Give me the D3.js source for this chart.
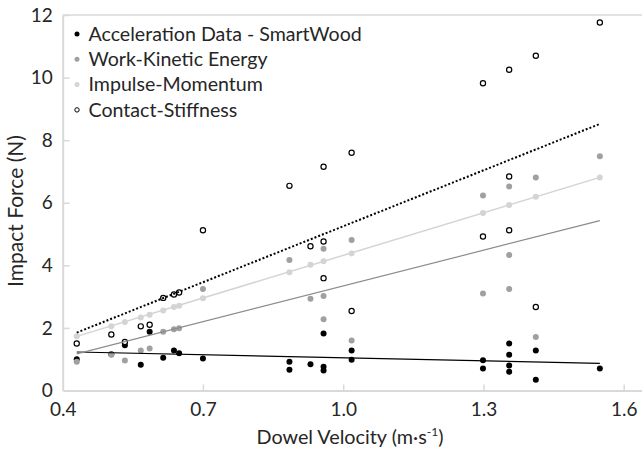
<!DOCTYPE html>
<html>
<head>
<meta charset="utf-8">
<script src="https://cdn.jsdelivr.net/npm/d3@7"></script>
<style>
	html, body { margin: 0; padding: 0; background: #fff; }
	svg { display: block; font-family: Lato, "Open Sans", sans-serif; }
</style>
</head>
<body>
<div id="chart"></div>
<script>
// Values
const accelX = [0.43, 0.504, 0.533, 0.567, 0.586, 0.615, 0.638, 0.649, 0.70, 0.885, 0.885, 0.93, 0.958, 0.958, 0.958, 1.018, 1.018, 1.299, 1.299, 1.355, 1.355, 1.355, 1.355, 1.412, 1.412, 1.549];
const accelY = [1.00, 1.16, 1.45, 0.82, 1.88, 1.05, 1.28, 1.19, 1.02, 0.92, 0.66, 0.84, 1.82, 0.76, 0.64, 1.28, 0.98, 0.97, 0.70, 1.50, 1.14, 0.80, 0.60, 1.28, 0.34, 0.70];

const workX = [0.43, 0.504, 0.533, 0.567, 0.586, 0.615, 0.638, 0.649, 0.70, 0.885, 0.93, 0.958, 0.958, 0.958, 1.018, 1.018, 1.299, 1.299, 1.355, 1.355, 1.355, 1.412, 1.412, 1.549];
const workY = [0.92, 1.14, 0.96, 1.28, 1.34, 1.88, 1.96, 1.99, 3.24, 4.17, 2.93, 4.53, 3.02, 2.28, 4.81, 1.60, 6.23, 3.10, 6.52, 4.33, 3.24, 6.81, 1.71, 7.49];

const impulseX = [0.43, 0.504, 0.533, 0.567, 0.586, 0.615, 0.638, 0.649, 0.70, 0.885, 0.93, 0.958, 1.018, 1.299, 1.355, 1.412, 1.549];
const impulseY = [1.73, 2.05, 2.19, 2.33, 2.42, 2.56, 2.67, 2.71, 2.95, 3.78, 4.02, 4.13, 4.38, 5.67, 5.93, 6.19, 6.81];

const contactX = [0.43, 0.504, 0.533, 0.567, 0.586, 0.615, 0.638, 0.649, 0.70, 0.885, 0.93, 0.958, 0.958, 0.958, 1.018, 1.018, 1.299, 1.299, 1.355, 1.355, 1.355, 1.412, 1.412, 1.549];
const contactY = [1.50, 1.79, 1.55, 2.05, 2.10, 2.96, 3.07, 3.13, 5.12, 6.54, 4.61, 7.15, 4.76, 3.59, 7.60, 2.54, 9.82, 4.92, 10.25, 6.84, 5.12, 10.70, 2.67, 11.76];

// Linear trend lines (start/end values at the first and last velocity)
const trendX = [0.43, 1.549];
const accelTrend = [1.23, 0.87];
const workTrend = [1.17, 5.43];
const impulseTrend = [1.73, 6.81];
const contactTrend = [1.85, 8.52];

const seriesNames = ['Acceleration Data - SmartWood', 'Work-Kinetic Energy', 'Impulse-Momentum', 'Contact-Stiffness'];
const xTicks = [0.4, 0.7, 1.0, 1.3, 1.6];
const yTicks = [0, 2, 4, 6, 8, 10, 12];

(function() {
	const W = 642, H = 456;
	const axisColor = '#d9d9d9';
	const textColor = '#262626';

	const series = [
		{ name: seriesNames[0], xs: accelX, ys: accelY, trend: accelTrend, fill: '#000', stroke: '#000', line: '#000', dash: null, lw: 1.2 },
		{ name: seriesNames[1], xs: workX, ys: workY, trend: workTrend, fill: '#a0a0a0', stroke: '#a0a0a0', line: '#8c8c8c', dash: null, lw: 1.2 },
		{ name: seriesNames[2], xs: impulseX, ys: impulseY, trend: impulseTrend, fill: '#d4d4d4', stroke: '#d4d4d4', line: '#d4d4d4', dash: null, lw: 1.5 },
		{ name: seriesNames[3], xs: contactX, ys: contactY, trend: contactTrend, fill: '#fff', stroke: '#000', line: '#000', dash: '2,2', lw: 2 }
	];

	const svg = d3.select('#chart').append('svg')
		.attr('width', W)
		.attr('height', H);

	// Scales: plot area is cropped on the right, so the x domain runs a bit past 1.6
	const x = d3.scaleLinear().domain([0.4, 1.64]).range([62.7, 642.4]);
	const y = d3.scaleLinear().domain([0, 12]).range([390.5, 15]);

	// Top frame line
	svg.append('line')
		.attr('x1', x(0.4)).attr('x2', W)
		.attr('y1', y(12)).attr('y2', y(12))
		.attr('stroke', axisColor).attr('stroke-width', 1.5);

	// Axes with inside ticks
	const xAxis = svg.append('g')
		.attr('transform', 'translate(0,' + y(0) + ')')
		.call(d3.axisBottom(x).tickValues(xTicks).tickFormat(d3.format('.1f')).tickSizeInner(-6).tickSizeOuter(0).tickPadding(16));
	const yAxis = svg.append('g')
		.attr('transform', 'translate(' + x(0.4) + ',0)')
		.call(d3.axisLeft(y).tickValues(yTicks).tickFormat(d3.format('d')).tickSizeInner(-7).tickSizeOuter(0).tickPadding(10));

	svg.selectAll('.domain').attr('stroke', axisColor).attr('stroke-width', 2);
	svg.selectAll('.tick line').attr('stroke', axisColor).attr('stroke-width', 1.5);
	svg.selectAll('.tick text')
		.attr('fill', textColor)
		.style('font-family', 'Lato, sans-serif')
		.style('font-size', '19px');
	xAxis.selectAll('.tick text').attr('dy', '0.5em');
	// hide tick marks that sit on the other axis
	xAxis.selectAll('.tick').filter(function(d) { return d === 0.4; }).select('line').remove();
	yAxis.selectAll('.tick').filter(function(d) { return d === 0; }).select('line').remove();

	// Axis titles
	const xTitle = svg.append('text')
		.attr('x', 350)
		.attr('y', 444)
		.attr('text-anchor', 'middle')
		.attr('fill', textColor)
		.style('font-size', '19.8px');
	xTitle.append('tspan').text('Dowel Velocity (m\u00b7s');
	xTitle.append('tspan').attr('dy', -8).style('font-size', '12px').text('-1');
	xTitle.append('tspan').attr('dy', 8).text(')');

	svg.append('text')
		.attr('transform', 'translate(23,211) rotate(-90)')
		.attr('text-anchor', 'middle')
		.attr('fill', textColor)
		.style('font-size', '21px')
		.text('Impact Force (N)');

	// Points
	series.forEach(function(s) {
		const pts = s.xs.map(function(v, i) { return [v, s.ys[i]]; });
		svg.append('g').selectAll('circle')
			.data(pts)
			.enter().append('circle')
			.attr('cx', function(d) { return x(d[0]); })
			.attr('cy', function(d) { return y(d[1]); })
			.attr('r', s.fill === '#fff' ? 2.6 : 3)
			.attr('fill', s.fill)
			.attr('stroke', s.stroke)
			.attr('stroke-width', s.fill === '#fff' ? 1.2 : 0);
	});

	// Trend lines
	const line = d3.line()
		.x(function(d) { return x(d[0]); })
		.y(function(d) { return y(d[1]); });
	series.forEach(function(s) {
		svg.append('path')
			.datum(trendX.map(function(v, i) { return [v, s.trend[i]]; }))
			.attr('d', line)
			.attr('fill', 'none')
			.attr('stroke', s.line)
			.attr('stroke-width', s.lw)
			.attr('stroke-dasharray', s.dash);
	});

	// Legend
	const legend = svg.append('g').attr('transform', 'translate(77,34)');
	series.forEach(function(s, i) {
		const row = legend.append('g').attr('transform', 'translate(0,' + (i * 25.3) + ')');
		row.append('circle')
			.attr('r', s.fill === '#fff' ? 2.2 : 2.5)
			.attr('fill', s.fill)
			.attr('stroke', s.stroke)
			.attr('stroke-width', s.fill === '#fff' ? 1 : 0);
		row.append('text')
			.attr('x', 11.5)
			.attr('dy', '0.35em')
			.attr('fill', textColor)
			.style('font-size', '19.6px')
			.text(s.name);
	});
})();
</script>
</body>
</html>
